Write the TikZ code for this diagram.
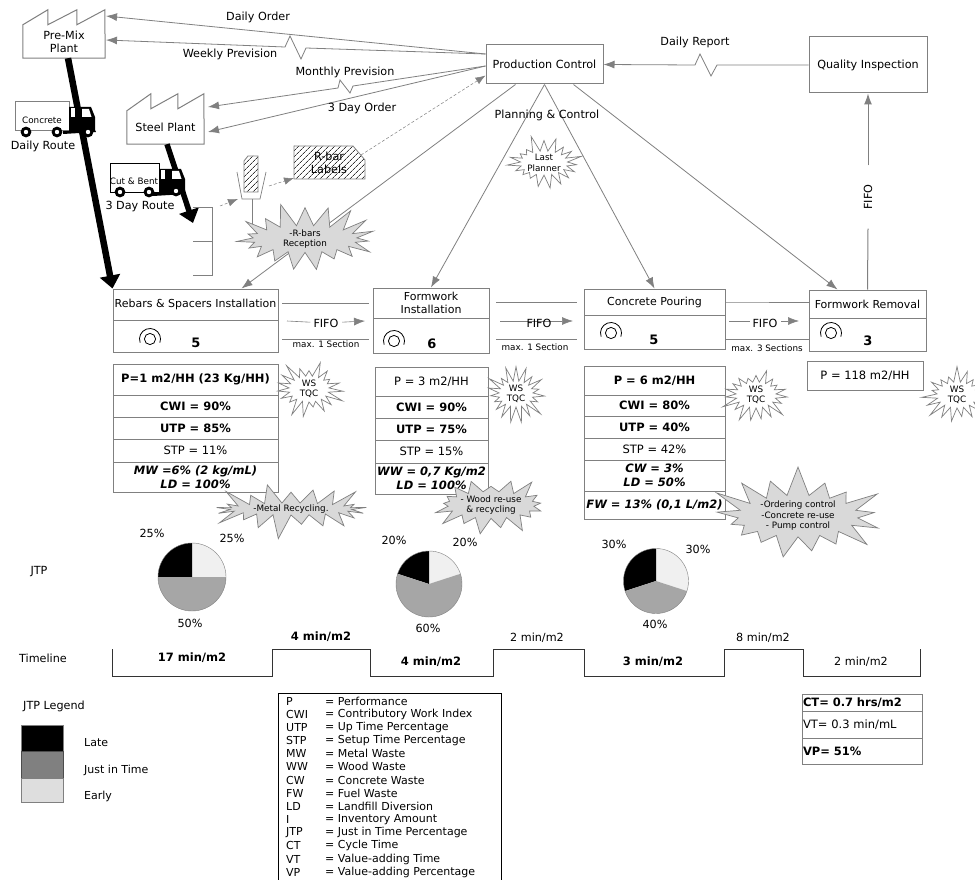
\documentclass[tikz,border=0pt]{standalone}
\usepackage{fontspec}
\setmainfont{DejaVu Sans}
\usepackage{xcolor}
\usepackage{tikz}
\usetikzlibrary{arrows.meta, positioning, calc, shapes.symbols, patterns.meta}
\definecolor{vsmgray}{HTML}{808080}
\definecolor{burstfill}{HTML}{D9D9D9}
\tikzset{
	txt/.style={inner sep=0pt, align=center, font=\fontsize{11.2}{13}\selectfont},
	small/.style={txt, font=\fontsize{8.8}{11}\selectfont},
	flow/.style={draw=vsmgray, line width=0.8pt, -{Latex[length=11pt,width=8pt]}},
	plainline/.style={draw=vsmgray, line width=1pt},
	dashflow/.style={draw=vsmgray, line width=0.5pt, densely dashed, -{Latex[length=10pt,width=7.5pt]}},
	fat/.style={line width=6.5pt, black, -{Triangle[length=13pt,width=20pt]}},
	box/.style={draw=vsmgray, line width=1pt, fill=white, inner sep=0pt, align=center, font=\fontsize{11}{13}\selectfont},
	cell/.style={box, font=\fontsize{11.5}{13.5}\selectfont},
	bcell/.style={cell, font=\fontsize{11.5}{13.5}\selectfont\bfseries},
	icell/.style={cell, font=\fontsize{11.5}{13.5}\selectfont\bfseries\itshape},
	hatched/.style={draw=vsmgray, line width=0.8pt, pattern={Lines[angle=45, distance=4pt, line width=0.7pt]}, pattern color=black!80},
	burstw/.style={starburst, draw=vsmgray, line width=0.7pt, fill=white, inner sep=0pt, align=center, starburst point height=17pt, starburst points=19, font=\fontsize{8.8}{10.5}\selectfont},
	burstg/.style={burstw, fill=burstfill, starburst point height=24pt, starburst points=17},
	num/.style={inner sep=0pt, font=\fontsize{13}{15}\selectfont\bfseries},
	pct/.style={txt},
	tl/.style={txt},
	tlb/.style={txt, font=\fontsize{11.5}{13}\selectfont\bfseries},
	keyline/.style={inner sep=0pt, anchor=west, font=\fontsize{11}{13}\selectfont}
}
\newcommand{\opicon}[2]{
	\draw[black, line width=0.8pt] (#1,#2) circle (5.6pt);
	\draw[black, line width=0.8pt] ([shift={(200:10.5pt)}]#1pt,-#2pt) arc (200:-20:10.5pt);
}
\newcommand{\truck}[2]{
	\fill[black] (#1,#2-24) -- (#1+22,#2-24) -- (#1+26,#2-14) -- (#1+26,#2-1) -- (#1+27,#2+1) -- (#1-6,#2+3) -- (#1-6,#2) -- (#1,#2) -- cycle;
	\fill[white] (#1+1.5,#2-23) rectangle (#1+6,#2-14);
	\fill[white] (#1+13,#2-22) -- (#1+20,#2-22) -- (#1+22.5,#2-14) -- (#1+13,#2-14) -- cycle;
}
\newcommand{\wheel}[2]{
	\fill[black] (#1,#2) circle (5.4pt);
	\fill[white] (#1,#2) circle (2.2pt);
}
\begin{document}
\begin{tikzpicture}[x=1pt,y=-1pt]
	\useasboundingbox (0,0) rectangle (975,880);
	\clip (0,0) rectangle (975,880);
	\fill[white] (0,0) rectangle (975,880);

	\node[box, minimum width=117, minimum height=39, font=\fontsize{11.2}{13}\selectfont] (pc) at (544.5,64.5) {Production Control};
	\node[box, minimum width=118, minimum height=56, font=\fontsize{11.2}{13}\selectfont] (qi) at (868,65) {Quality Inspection};

	\node[txt, minimum width=82, minimum height=33] (premix) at (64,41.5) {Pre-Mix\\Plant};
	\draw[plainline, fill=white] (premix.south west) -- (premix.north west) -- ++(25,-15) -- ++(0,15) -- ++(29,-15) -- ++(0,15) -- ++(28,-15) -- (premix.south east) -- cycle;
	\node[txt, minimum width=77, minimum height=33] (steel) at (165.5,127.5) {Steel Plant};
	\draw[plainline, fill=white] (steel.south west) -- (steel.north west) -- ++(24,-17) -- ++(0,15) -- ++(27,-15) -- ++(0,15) -- ++(26,-15) -- (steel.south east) -- cycle;
	\node[txt] at (premix) {Pre-Mix\\Plant};
	\node[txt] at (steel) {Steel Plant};

	\node[box, minimum width=165, minimum height=31] (rebars) at (195.5,304.5) {Rebars \& Spacers Installation};
	\node[box, minimum width=165, minimum height=32] (rebarsb) at (195.5,336) {};
	\node[box, minimum width=116, minimum height=30] (forminst) at (431,303) {Formwork\\Installation};
	\node[box, minimum width=116, minimum height=35] (forminstb) at (431,335.5) {};
	\node[box, minimum width=141, minimum height=26] (pour) at (654.5,302) {Concrete Pouring};
	\node[box, minimum width=141, minimum height=34] (pourb) at (654.5,332) {};
	\node[box, minimum width=117, minimum height=28] (removal) at (867.5,304) {Formwork Removal};
	\node[box, minimum width=117, minimum height=33] (removalb) at (867.5,334.5) {};

	\opicon{150}{339}
	\opicon{394}{341}
	\opicon{611}{333}
	\opicon{831}{333}
	\node[num] (numa) at (196,343) {5};
	\node[num] (numb) at (432,344) {6};
	\node[num] (numc) at (654,340) {5};
	\node[num] (numd) at (868,341) {3};

	\draw[flow] (pc.west |- 0,54) -- (106,16);
	\draw[flow] (pc.west |- 0,54) -- (306,48) -- (301,59) -- (290,36) -- (285,47) -- (106,40);
	\draw[flow] (pc.west |- 0,66) -- (353,86) -- (350,93) -- (340,80) -- (338,88) -- (208,107);
	\draw[flow] (pc.west |- 0,66) -- (208,132);
	\draw[flow] (qi.west) -- (717,65) -- (711,76) -- (700,54) -- (695,65) -- (pc.east);
	\draw[flow] ([xshift=-29pt]pc.south) -- ([xshift=46pt]rebars.north);
	\draw[flow] (pc.south) -- (forminst.north);
	\draw[flow] (pc.south) -- (pour.north);
	\draw[flow] ([xshift=29pt]pc.south) -- ([xshift=-30pt]removal.north);

	\node[txt] (dailyorder) at (258,17) {Daily Order};
	\node[txt] (weekly) at (230,54) {Weekly Prevision};
	\node[txt] (monthly) at (345,72) {Monthly Prevision};
	\node[txt] (threeday) at (362,108) {3 Day Order};
	\node[txt] (dailyreport) at (695,42) {Daily Report};
	\node[txt] (planning) at (547,115) {Planning \& Control};

	\node[txt, rotate=90, fill=white, inner xsep=19pt, inner ysep=3pt] (fifoup) at (868,197) {FIFO};
	\draw[plainline] (removal.north) -- (fifoup.west);
	\draw[flow, line width=1pt] (fifoup.east) -- (qi.south);

	\draw[fat] ([xshift=4pt]premix.south) -- (rebars.north west);
	\coordinate (binin) at (193,223);
	\draw[fat, line width=5.5pt] ([xshift=1.5pt]steel.south) -- (binin);

	\draw[plainline, fill=white] (15,102) rectangle (69,131);
	\truck{69}{131}
	\wheel{26}{132}
	\wheel{57}{132}
	\wheel{88}{132}
	\node[small] (concrete) at (42,120) {Concrete};
	\node[txt] (dailyroute) at (43,146) {Daily Route};
	\draw[plainline, black, fill=white] (110,164) rectangle (159,193);
	\truck{159}{193}
	\wheel{120}{192}
	\wheel{149}{192}
	\wheel{176}{191}
	\node[small] (cutbent) at (134,181) {Cut \& Bent};
	\node[txt] (threeroute) at (140,207) {3 Day Route};

	\draw[plainline] (193,207) -- (212,207) -- (212,275) -- (193,275);
	\draw[plainline] (193,241) -- (212,241);
	\coordinate (binout) at (220,206);
	\coordinate (postin) at (238,199);
	\coordinate (postout) at (269,186);
	\draw[dashflow] (binout) -- (postin);
	\draw[plainline, line width=0.7pt] (237,172) -- (242,199) -- (260,199) -- (266,172);
	\draw[plainline, line width=0.7pt] (252,199) -- (252,225);
	\draw[hatched] (244,161) -- (248,156) -- (258,156) -- (258,192) -- (244,192) -- cycle;
	\draw[hatched] (294,146) -- (353,146) -- (365,160) -- (365,179) -- (294,179) -- cycle;
	\node[txt] (rbar) at (329,163) {R-bar\\Labels};
	\coordinate (rbarcorner) at (361,155);
	\draw[dashflow] (postout) -- (294,178);
	\draw[dashflow] (rbarcorner) -- ([yshift=9pt]pc.south west);

	\node[burstg, minimum width=152pt, minimum height=62pt, random starburst=11, starburst points=19] (rbarsburst) at (305,239) {-R-bars\\Reception};
	\node[burstw, minimum width=78pt, minimum height=58pt, random starburst=5] (lastplanner) at (544,163) {Last\\Planner};

	\draw[plainline] (282,303) -- (369,303);
	\draw[plainline] (282,339) -- (369,339);
	\node[txt, fill=white, inner xsep=3pt, inner ysep=1pt] (fifoa) at (326,323) {FIFO};
	\draw[flow, line width=0.6pt] (287,321) -- (fifoa) -- (365,321);
	\node[txt, fill=white, inner xsep=3pt, inner ysep=1pt] at (326,323) {FIFO};
	\node[small] (maxa) at (326,344) {max. 1 Section};
	\draw[plainline] (496,302) -- (577,302);
	\draw[plainline] (496,339) -- (577,339);
	\draw[flow, line width=0.6pt] (500,321) -- (573,321);
	\node[txt] (fifob) at (539,323) {FIFO};
	\node[small] (maxb) at (535,347) {max. 1 Section};
	\draw[plainline] (pour.east) -- (730,302) -- (removal.west |- 0,302);
	\draw[plainline] (725,339) -- (removal.west |- 0,339);
	\node[txt, fill=white, inner xsep=3pt, inner ysep=1pt] (fifoc) at (765,323) {FIFO};
	\draw[flow, line width=0.6pt] (729,321) -- (799,321);
	\node[txt, fill=white, inner xsep=3pt, inner ysep=1pt] at (765,323) {FIFO};
	\node[small] (maxc) at (767,348) {max. 3 Sections};

	\node[bcell, minimum width=165, minimum height=31] (pa) at (195.5,379.5) {P=1 m2/HH (23 Kg/HH)};
	\node[bcell, minimum width=165, minimum height=22] (cwia) at (195.5,406) {CWI = 90\%};
	\node[bcell, minimum width=165, minimum height=22] (utpa) at (195.5,428) {UTP = 85\%};
	\node[cell, minimum width=165, minimum height=23] (stpa) at (195.5,450.5) {STP = 11\%};
	\node[icell, minimum width=165, minimum height=30] (wastea) at (195.5,477) {MW =6\% (2 kg/mL)\\LD = 100\%};

	\node[cell, minimum width=113, minimum height=29] (pb) at (431.5,381.5) {P = 3 m2/HH};
	\node[bcell, minimum width=113, minimum height=22] (cwib) at (431.5,407) {CWI = 90\%};
	\node[bcell, minimum width=113, minimum height=22] (utpb) at (431.5,429) {UTP = 75\%};
	\node[cell, minimum width=113, minimum height=23] (stpb) at (431.5,451.5) {STP = 15\%};
	\node[icell, minimum width=113, minimum height=31] (wasteb) at (431.5,478.5) {WW = 0,7 Kg/m2\\LD = 100\%};

	\node[bcell, minimum width=141, minimum height=29] (pc2) at (654.5,380.5) {P = 6 m2/HH};
	\node[bcell, minimum width=141, minimum height=21] (cwic) at (654.5,405.5) {CWI = 80\%};
	\node[bcell, minimum width=141, minimum height=22] (utpc) at (654.5,427) {UTP = 40\%};
	\node[cell, minimum width=141, minimum height=22] (stpc) at (654.5,449) {STP = 42\%};
	\node[icell, minimum width=141, minimum height=31] (wastec) at (654.5,475.5) {CW = 3\%\\LD = 50\%};
	\node[icell, minimum width=141, minimum height=28] (fuelc) at (654.5,505) {FW = 13\% (0,1 L/m2)};

	\node[cell, minimum width=116, minimum height=29] (pd) at (865,375.5) {P = 118 m2/HH};

	\node[burstw, minimum width=74pt, minimum height=60pt, random starburst=3] (wsa) at (309,389) {WS\\TQC};
	\node[burstw, minimum width=68pt, minimum height=60pt, random starburst=4] (wsb) at (516,394) {WS\\TQC};
	\node[burstw, minimum width=74pt, minimum height=60pt, random starburst=6] (wsc) at (756,395) {WS\\TQC};
	\node[burstw, minimum width=74pt, minimum height=60pt, random starburst=7] (wsd) at (957,395) {WS\\TQC};
	\node[burstg, minimum width=170pt, minimum height=58pt, random starburst=9, starburst points=21] (metal) at (291,509) {-Metal Recycling.};
	\node[burstg, minimum width=110pt, minimum height=44pt, random starburst=13, starburst point height=18pt] (wood) at (491,505) {- Wood re-use\\\& recycling};
	\node[burstg, minimum width=184pt, minimum height=84pt, random starburst=17, starburst point height=32pt] (ordering) at (798,516) {-Ordering control\\-Concrete re-use\\- Pump control};

	\fill[black!6] (192,577) -- (192,543) arc (90:0:34pt) -- cycle;
	\fill[black] (192,577) -- (192,543) arc (90:180:34pt) -- cycle;
	\fill[black!35] (192,577) -- (158,577) arc (180:360:34pt) -- cycle;
	\draw[vsmgray, line width=0.4pt] (192,577) circle (34pt);
	\fill[black!6] (429,584) -- ++(90:33pt) arc (90:18:33pt) -- cycle;
	\fill[black] (429,584) -- ++(90:33pt) arc (90:162:33pt) -- cycle;
	\fill[black!35] (429,584) -- ++(162:33pt) arc (162:378:33pt) -- cycle;
	\draw[vsmgray, line width=0.4pt] (429,584) circle (33pt);
	\fill[black!6] (656,581) -- ++(90:32.5pt) arc (90:-18:32.5pt) -- cycle;
	\fill[black] (656,581) -- ++(90:32.5pt) arc (90:198:32.5pt) -- cycle;
	\fill[black!35] (656,581) -- ++(198:32.5pt) arc (198:342:32.5pt) -- cycle;
	\draw[vsmgray, line width=0.4pt] (656,581) circle (32.5pt);

	\node[pct] (pa1) at (152,533) {25\%};
	\node[pct] (pa2) at (232,538) {25\%};
	\node[pct] (pa3) at (190,623) {50\%};
	\node[pct] (pb1) at (394,540) {20\%};
	\node[pct] (pb2) at (465,542) {20\%};
	\node[pct] (pb3) at (428,628) {60\%};
	\node[pct] (pc1) at (614,544) {30\%};
	\node[pct] (pc3) at (698,549) {30\%};
	\node[pct] (pc4) at (655,624) {40\%};
	\node[txt] (jtp) at (39,572) {JTP};
	\node[txt] (timeline) at (43,658) {Timeline};

	\draw[black!80, line width=0.9pt] (112,649) -- (112,676) -- (272,676) -- (272,649) -- (370,649) -- (370,676) -- (493,676) -- (493,649) -- (584,649) -- (584,676) -- (724,676) -- (724,649) -- (803,649) -- (803,676) -- (920,676) -- (920,649);
	\node[tlb] (ta) at (192,658) {17 min/m2};
	\node[tlb] (tb) at (321,637) {4 min/m2};
	\node[tlb] (tc) at (431,662) {4 min/m2};
	\node[tl] (td) at (537,638) {2 min/m2};
	\node[tlb] (te) at (653,662) {3 min/m2};
	\node[tl] (tf) at (763,638) {8 min/m2};
	\node[tl] (tg) at (861,662) {2 min/m2};

	\node[txt] (legend) at (54,706) {JTP Legend};
	\node[draw=vsmgray, fill=black, minimum width=42, minimum height=26, inner sep=0pt] (lglate) at (42,738) {};
	\node[draw=black!70, fill=vsmgray, minimum width=42, minimum height=27, inner sep=0pt] (lgjust) at (42,764.5) {};
	\node[draw=vsmgray, fill=black!13, minimum width=42, minimum height=24, inner sep=0pt] (lgearly) at (42,790) {};
	\node[keyline] (lbl1) at (84,743) {Late};
	\node[keyline] (lbl2) at (84,770) {Just in Time};
	\node[keyline] (lbl3) at (84,796) {Early};

	\draw[black, line width=0.7pt] (278,884) -- (278,693) -- (501,693) -- (501,884) -- cycle;
	\foreach \keyabbr/\keytext [count=\i] in {P/Performance, CWI/Contributory Work Index, UTP/Up Time Percentage, STP/Setup Time Percentage, MW/Metal Waste, WW/Wood Waste, CW/Concrete Waste, FW/Fuel Waste, LD/Landfill Diversion, I/Inventory Amount, JTP/Just in Time Percentage, CT/Cycle Time, VT/Value-adding Time, VP/Value-adding Percentage} {
		\node[keyline] (ab\i) at (286,{701+13.17*(\i-1)}) {\keyabbr};
		\node[keyline] (me\i) at (325,{701+13.17*(\i-1)}) {= \keytext};
	}

	\node[box, minimum width=120, minimum height=17, text width=118pt, align=left, font=\fontsize{11.5}{13}\selectfont\bfseries] (ct) at (862,702.5) {CT= 0.7 hrs/m2};
	\node[box, minimum width=120, minimum height=27, text width=118pt, align=left, font=\fontsize{11.5}{13}\selectfont] (vt) at (862,724.5) {VT= 0.3 min/mL};
	\node[box, minimum width=120, minimum height=26, text width=118pt, align=left, font=\fontsize{11.5}{13}\selectfont\bfseries] (vp) at (862,751) {VP= 51\%};
\end{tikzpicture}
\end{document}
